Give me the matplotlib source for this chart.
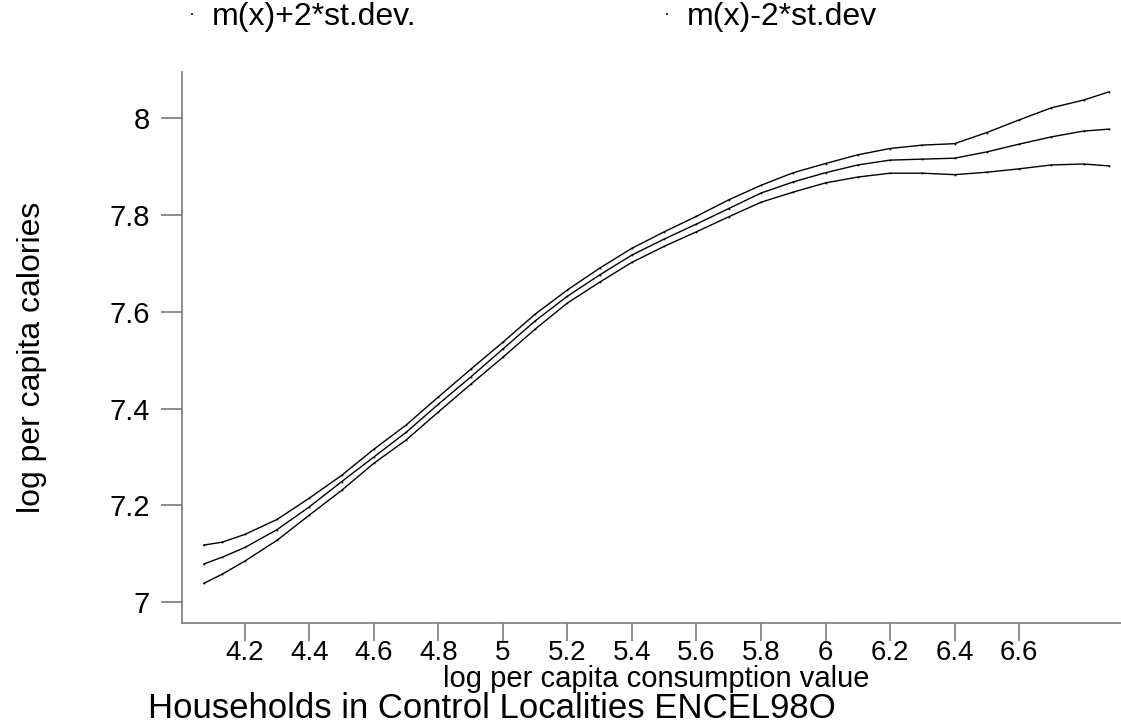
import matplotlib.pyplot as plt
from matplotlib.lines import Line2D

plt.rcParams['font.family'] = ['Liberation Sans', 'DejaVu Sans']

# log per capita consumption value (grid of the smoother)
x = [4.073, 4.13, 4.2, 4.3, 4.4, 4.5, 4.6, 4.7, 4.8, 4.9, 5.0, 5.1, 5.2, 5.3, 5.4,
     5.5, 5.6, 5.7, 5.8, 5.9, 6.0, 6.1, 6.2, 6.3, 6.4, 6.5, 6.6, 6.7, 6.8, 6.879]

# m(x) + 2*st.dev
upper = [7.118, 7.124, 7.140, 7.171, 7.215, 7.262, 7.316, 7.366, 7.424, 7.481,
         7.537, 7.595, 7.645, 7.690, 7.731, 7.765, 7.797, 7.831, 7.861, 7.887,
         7.906, 7.924, 7.937, 7.944, 7.947, 7.970, 7.996, 8.021, 8.037, 8.054]
# m(x)
fit = [7.079, 7.093, 7.113, 7.150, 7.197, 7.249, 7.300, 7.351, 7.409, 7.465,
       7.523, 7.581, 7.632, 7.676, 7.717, 7.750, 7.781, 7.813, 7.845, 7.868,
       7.887, 7.903, 7.913, 7.915, 7.917, 7.930, 7.946, 7.961, 7.973, 7.977]
# m(x) - 2*st.dev
lower = [7.039, 7.058, 7.085, 7.128, 7.180, 7.231, 7.287, 7.335, 7.393, 7.450,
         7.506, 7.564, 7.618, 7.661, 7.702, 7.735, 7.765, 7.796, 7.826, 7.847,
         7.866, 7.878, 7.886, 7.886, 7.883, 7.888, 7.895, 7.903, 7.905, 7.901]

xticks = [4.2, 4.4, 4.6, 4.8, 5.0, 5.2, 5.4, 5.6, 5.8, 6.0, 6.2, 6.4, 6.6]
xticklabels = ['4.2', '4.4', '4.6', '4.8', '5', '5.2', '5.4', '5.6', '5.8', '6', '6.2', '6.4', '6.6']
yticks = [7.0, 7.2, 7.4, 7.6, 7.8, 8.0]
yticklabels = ['7', '7.2', '7.4', '7.6', '7.8', '8']

W, H = 1121, 726
fig = plt.figure(figsize=(W / 100, H / 100), dpi=100)
ax = fig.add_axes([182 / W, 1 - 623 / H, 1 - 182 / W, (623 - 72) / H])

for y in (upper, fit, lower):
    ax.plot(x, y, color='black', lw=1.0, marker='s', ms=1.2, mew=0)

ax.set_xlim(4.005, 6.916)
ax.set_ylim(6.957, 8.095)

ax.set_xticks(xticks)
ax.set_xticklabels(xticklabels)
ax.set_yticks(yticks)
ax.set_yticklabels(yticklabels)

grey = '#7a7a7a'
for s in ('top', 'right'):
    ax.spines[s].set_visible(False)
for s in ('left', 'bottom'):
    ax.spines[s].set_color(grey)
    ax.spines[s].set_linewidth(1.2)
ax.tick_params(axis='y', length=15, width=1.2, color=grey, pad=8, labelsize=21)
ax.tick_params(axis='x', length=13, width=1.2, color=grey, pad=-1, labelsize=20)

ax.set_xlabel('log per capita consumption value', fontsize=21)
ax.xaxis.set_label_coords((656 - 182) / 939, (623 - 665) / 551)
ax.set_ylabel('log per capita calories', fontsize=23)
ax.yaxis.set_label_coords((47 - 182) / 939, (623 - 357) / 551)

fig.text(148 / W, 1 - 709 / H, 'Households in Control Localities ENCEL98O',
         ha='left', va='center', fontsize=25)

# legend: two keys, only the bands are labelled
key = Line2D([], [], ls='none', marker='s', ms=1.5, mew=0, color='#333333')
for lab, xpos in (('m(x)+2*st.dev.', 186), ('m(x)-2*st.dev', 661)):
    fig.legend([key], [lab], loc='center left', bbox_to_anchor=(xpos / W, 1 - 17 / H),
               frameon=False, fontsize=23, handlelength=0.4, handletextpad=0.4,
               borderpad=0, borderaxespad=0)

fig.savefig('out.png', dpi=100)
